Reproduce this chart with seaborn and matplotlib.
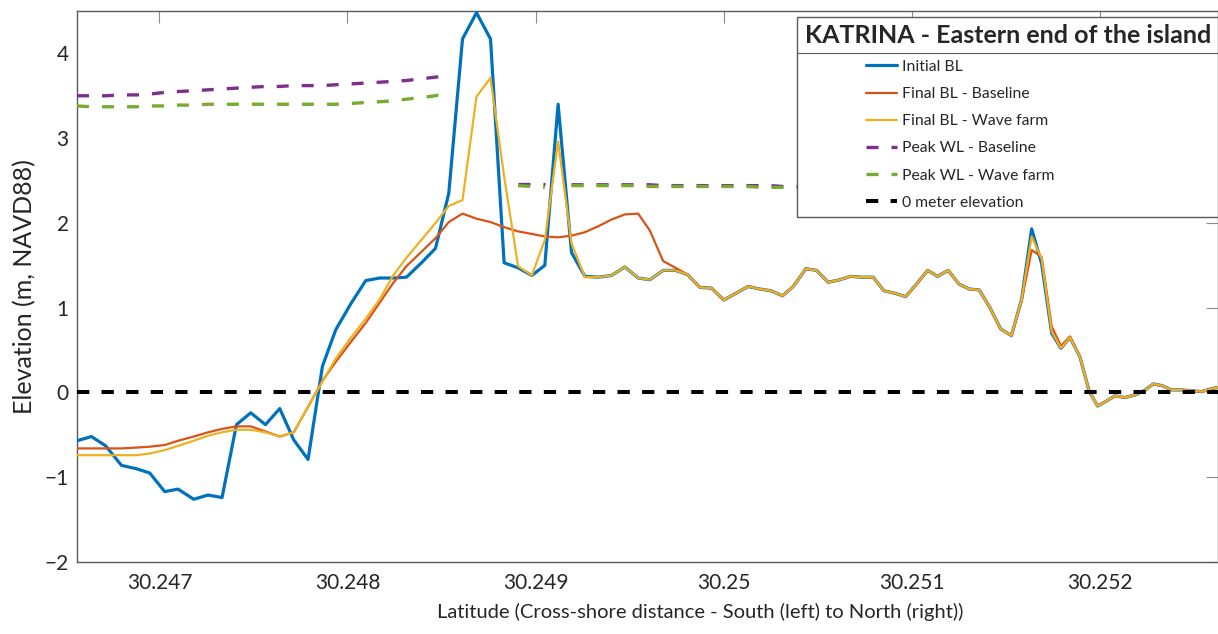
import numpy as np
import pandas as pd
import matplotlib
matplotlib.use("Agg")
import matplotlib.pyplot as plt
import seaborn as sns
from matplotlib.lines import Line2D
from matplotlib.offsetbox import HPacker, DrawingArea

# ---------------- data ----------------
latitude = [
    30.2465617, 30.2466383, 30.2467144, 30.2467979, 30.2468777, 30.2469484, 30.2470282, 30.2470989,
    30.2471824, 30.2472585, 30.2473330, 30.2474096, 30.2474856, 30.2475638, 30.2476399, 30.2477144,
    30.2477904, 30.2478670, 30.2479378, 30.2480160, 30.2480973, 30.2481718, 30.2482426, 30.2483138,
    30.2483936, 30.2484681, 30.2485388, 30.2486117, 30.2486862, 30.2487606, 30.2488330, 30.2489074,
    30.2489803, 30.2490495, 30.2491202, 30.2491915, 30.2492622, 30.2493330, 30.2494042, 30.2494750,
    30.2495457, 30.2496080, 30.2496787, 30.2497447, 30.2498085, 30.2498739, 30.2499362, 30.2500016,
    30.2500654, 30.2501308, 30.2501931, 30.2502516, 30.2503138, 30.2503702, 30.2504378, 30.2504947,
    30.2505564, 30.2506186, 30.2506755, 30.2507340, 30.2507957, 30.2508526, 30.2509112, 30.2509681,
    30.2510266, 30.2510851, 30.2511383, 30.2511947, 30.2512516, 30.2513064, 30.2513596, 30.2514165,
    30.2514734, 30.2515308, 30.2515851, 30.2516383, 30.2516915, 30.2517447, 30.2517942, 30.2518420,
    30.2518952, 30.2519447, 30.2519893, 30.2520372, 30.2520814, 30.2521346, 30.2521878, 30.2522356,
    30.2522851, 30.2523329, 30.2523829, 30.2524361, 30.2524894, 30.2525426, 30.2525867, 30.2526293,
]

initial_bl = [
    -0.57, -0.52, -0.63, -0.86, -0.90, -0.95, -1.17, -1.14, -1.26, -1.21,
    -1.24, -0.38, -0.24, -0.38, -0.19, -0.56, -0.79, 0.31, 0.74, 1.04,
    1.32, 1.35, 1.35, 1.36, 1.53, 1.70, 2.35, 4.17, 4.48, 4.17,
    1.53, 1.47, 1.38, 1.50, 3.40, 1.65, 1.37, 1.36, 1.38, 1.48,
    1.35, 1.33, 1.44, 1.44, 1.39, 1.24, 1.23, 1.09, 1.17, 1.25,
    1.22, 1.20, 1.14, 1.25, 1.46, 1.44, 1.30, 1.33, 1.37, 1.36,
    1.36, 1.20, 1.17, 1.13, 1.28, 1.44, 1.37, 1.44, 1.28, 1.22,
    1.21, 1.00, 0.75, 0.67, 1.10, 1.93, 1.52, 0.70, 0.52, 0.65,
    0.42, 0.01, -0.16, -0.10, -0.04, -0.06, -0.03, 0.02, 0.10, 0.08,
    0.03, 0.03, 0.02, 0.01, 0.04, 0.06,
]

final_bl_baseline = [
    -0.66, -0.66, -0.66, -0.66, -0.65, -0.64, -0.62, -0.57, -0.52, -0.47,
    -0.43, -0.40, -0.40, -0.46, -0.52, -0.47, -0.17, 0.14, 0.36, 0.59,
    0.82, 1.06, 1.29, 1.49, 1.66, 1.82, 2.01, 2.11, 2.05, 2.01,
    1.95, 1.90, 1.87, 1.84, 1.83, 1.85, 1.89, 1.96, 2.04, 2.10,
    2.11, 1.91, 1.55, 1.47, 1.39, 1.24, 1.23, 1.09, 1.17, 1.25,
    1.22, 1.20, 1.14, 1.25, 1.46, 1.44, 1.30, 1.33, 1.37, 1.36,
    1.36, 1.20, 1.17, 1.13, 1.28, 1.44, 1.37, 1.44, 1.28, 1.22,
    1.21, 1.00, 0.75, 0.67, 1.08, 1.68, 1.60, 0.78, 0.55, 0.66,
    0.42, 0.01, -0.16, -0.10, -0.04, -0.06, -0.03, 0.02, 0.10, 0.08,
    0.03, 0.03, 0.02, 0.01, 0.04, 0.06,
]

final_bl_wavefarm = [
    -0.74, -0.74, -0.74, -0.74, -0.74, -0.72, -0.68, -0.63, -0.57, -0.51,
    -0.47, -0.44, -0.44, -0.47, -0.52, -0.47, -0.17, 0.13, 0.40, 0.64,
    0.87, 1.10, 1.38, 1.59, 1.80, 2.00, 2.20, 2.27, 3.49, 3.71,
    2.55, 1.49, 1.38, 1.80, 2.96, 1.76, 1.36, 1.36, 1.38, 1.48,
    1.35, 1.33, 1.44, 1.44, 1.39, 1.24, 1.23, 1.09, 1.17, 1.25,
    1.22, 1.20, 1.14, 1.25, 1.46, 1.44, 1.30, 1.33, 1.37, 1.36,
    1.36, 1.20, 1.17, 1.13, 1.28, 1.44, 1.37, 1.44, 1.28, 1.22,
    1.21, 1.00, 0.75, 0.67, 1.10, 1.84, 1.58, 0.72, 0.52, 0.65,
    0.42, 0.01, -0.16, -0.10, -0.04, -0.06, -0.03, 0.02, 0.10, 0.08,
    0.03, 0.03, 0.02, 0.01, 0.04, 0.06,
]

nan = np.nan
peak_wl_baseline = (
    [3.50, 3.50, 3.50, 3.51, 3.51, 3.52, 3.54, 3.55, 3.56, 3.57,
     3.58, 3.59, 3.60, 3.61, 3.61, 3.62, 3.62, 3.62, 3.63, 3.64,
     3.65, 3.66, 3.67, 3.68, 3.70, 3.72, 3.74]
    + [nan] * 4
    + [2.46, 2.46, 2.46]
    + [nan]
    + [2.45, 2.45, 2.45, 2.45, 2.45, 2.45, 2.45, 2.44, 2.44, 2.44,
       2.44, 2.44, 2.44, 2.44, 2.44, 2.44, 2.44, 2.43, 2.43, 2.43,
       2.43, 2.43, 2.43, 2.43, 2.43, 2.43, 2.43, 2.43, 2.43, 2.42,
       2.42, 2.42, 2.42, 2.42, 2.42, 2.42]
    + [nan] * 25
)

peak_wl_wavefarm = (
    [3.38, 3.37, 3.37, 3.37, 3.37, 3.38, 3.38, 3.39, 3.39, 3.40,
     3.40, 3.40, 3.40, 3.40, 3.40, 3.40, 3.40, 3.40, 3.40, 3.41,
     3.42, 3.43, 3.44, 3.46, 3.48, 3.50, 3.55]
    + [nan] * 4
    + [2.44, 2.43, 2.42]
    + [nan]
    + [2.44, 2.44, 2.44, 2.44, 2.44, 2.44, 2.43, 2.43, 2.43, 2.43,
       2.43, 2.43, 2.43, 2.43, 2.43, 2.42, 2.42, 2.42, 2.42, 2.42,
       2.42, 2.42, 2.42, 2.42, 2.42, 2.42, 2.41, 2.41, 2.41, 2.41,
       2.41, 2.41, 2.41, 2.41, 2.41, 2.41]
    + [nan] * 25
)

zero_level = 0.0

series_names = ["Initial BL", "Final BL - Baseline", "Final BL - Wave farm",
                "Peak WL - Baseline", "Peak WL - Wave farm", "0 meter elevation"]
legend_title = "KATRINA - Eastern end of the island"
xtick_values = [30.247, 30.248, 30.249, 30.250, 30.251, 30.252]
xtick_labels = ["30.247", "30.248", "30.249", "30.25", "30.251", "30.252"]
ytick_values = [-2, -1, 0, 1, 2, 3, 4]
ytick_labels = ["\u22122", "\u22121", "0", "1", "2", "3", "4"]
x_label = "Latitude (Cross-shore distance - South (left) to North (right))"
y_label = "Elevation (m, NAVD88)"

# ---------------- style ----------------
sns.set_theme(style="white")
plt.rcParams["font.family"] = ["Lato", "DejaVu Sans"]
plt.rcParams["axes.unicode_minus"] = True

C_BLUE = "#0072BD"
C_RED = "#D95319"
C_YELLOW = "#EDB120"
C_PURPLE = "#7E2F8E"
C_GREEN = "#77AC30"
C_BLACK = "#000000"
TXT = "#262626"
EDGE = "#5a5a5a"

fig, ax = plt.subplots(figsize=(12.18, 6.34), dpi=100)
fig.subplots_adjust(left=77 / 1218, right=1.0, bottom=1 - 562 / 634, top=1 - 11 / 634)

df = pd.DataFrame({
    "lat": latitude,
    "initial": initial_bl,
    "fin_base": final_bl_baseline,
    "fin_wave": final_bl_wavefarm,
    "wl_base": peak_wl_baseline,
    "wl_wave": peak_wl_wavefarm,
})

wl_dash = (0, (3.6, 3.9))
zero_dash = (0, (3.05, 3.05))

sns.lineplot(data=df, x="lat", y="initial", color=C_BLUE, linewidth=2.3,
             sort=False, estimator=None, ax=ax, legend=False, zorder=3)
sns.lineplot(data=df, x="lat", y="fin_base", color=C_RED, linewidth=1.6,
             sort=False, estimator=None, ax=ax, legend=False, zorder=4)
sns.lineplot(data=df, x="lat", y="fin_wave", color=C_YELLOW, linewidth=1.6,
             sort=False, estimator=None, ax=ax, legend=False, zorder=5)


def wl_segments(col):
    d = df[["lat", col]].copy()
    d["seg"] = d[col].isna().cumsum()
    return d.dropna()


for col, colr, z in (("wl_base", C_PURPLE, 6), ("wl_wave", C_GREEN, 7)):
    d = wl_segments(col)
    sns.lineplot(data=d, x="lat", y=col, units="seg", estimator=None, sort=False,
                 color=colr, linewidth=2.4, linestyle=wl_dash, ax=ax,
                 legend=False, zorder=z)

ax.axhline(zero_level, color=C_BLACK, linewidth=2.9, linestyle=zero_dash, zorder=8)

# ---------------- axes ----------------
ax.set_xlim(latitude[0], latitude[-1])
ax.set_ylim(-2, 4.5)
ax.set_xticks(xtick_values, labels=xtick_labels)
ax.set_yticks(ytick_values, labels=ytick_labels)
ax.set_xlabel(x_label, fontsize=14.5, color=TXT)
ax.xaxis.set_label_coords(0.546, -0.075)
ax.set_ylabel(y_label, fontsize=18, color=TXT, labelpad=6)
ax.tick_params(axis="both", direction="in", length=8.5, width=0.8, color="#8a8a8a",
               labelsize=15, labelcolor=TXT, top=True, right=True)
ax.tick_params(axis="x", pad=8)
ax.tick_params(axis="y", pad=6)
for sp in ax.spines.values():
    sp.set_visible(True)
    sp.set_color(EDGE)
    sp.set_linewidth(1.0)

# ---------------- legend ----------------
styles = [
    dict(color=C_BLUE, linewidth=2.3),
    dict(color=C_RED, linewidth=1.6),
    dict(color=C_YELLOW, linewidth=1.6),
    dict(color=C_PURPLE, linewidth=2.4, linestyle=wl_dash),
    dict(color=C_GREEN, linewidth=2.4, linestyle=wl_dash),
    dict(color=C_BLACK, linewidth=2.9, linestyle=zero_dash),
]
handles = [Line2D([], [], **s) for s in styles]
leg_fs = 11.3
leg = ax.legend(handles, series_names, loc="upper right", bbox_to_anchor=(1.0, 0.99),
                title=legend_title, title_fontproperties={"weight": "bold", "size": 18},
                fontsize=leg_fs, frameon=True, fancybox=False, framealpha=1.0,
                edgecolor=EDGE, borderpad=0.46, labelspacing=0.84,
                handlelength=2.0, handletextpad=0.29, borderaxespad=0.0,
                alignment="left")
leg.get_frame().set_linewidth(1.0)
leg.set_zorder(20)

# indent the entry block (MATLAB-style legend layout)
hb = leg._legend_handle_box
spacer = DrawingArea(44, 0)
indented = HPacker(children=[spacer, hb], align="top", pad=0, sep=0)
indented.set_figure(fig)
spacer.set_figure(fig)
leg._legend_box._children[1] = indented

fig.canvas.draw()
renderer = fig.canvas.get_renderer()
fb = leg.get_frame().get_window_extent(renderer)
tb = leg.get_title().get_window_extent(renderer)
first_txt = leg.get_texts()[0].get_window_extent(renderer)
W, H = fig.bbox.width, fig.bbox.height
ysep = 0.5 * (tb.y0 + first_txt.y1)
fig.add_artist(Line2D([fb.x0 / W, fb.x1 / W], [ysep / H, ysep / H],
                      transform=fig.transFigure, color=EDGE, linewidth=0.8,
                      zorder=30))

fig.savefig("out.png", dpi=100)
